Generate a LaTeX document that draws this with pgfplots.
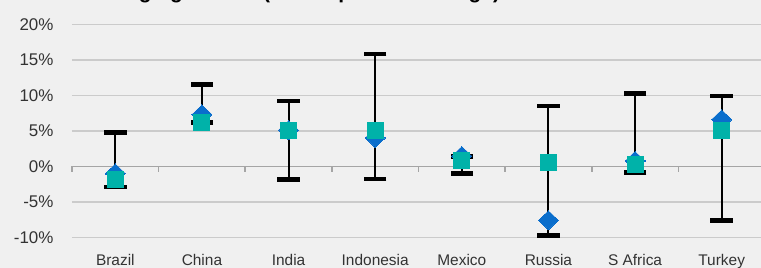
\documentclass[border=0pt]{standalone}
\usepackage{fontspec}
\setmainfont{Liberation Sans}
\usepackage{pgfplots}
\pgfplotsset{compat=1.18}
\usepackage{pgfplotstable}
\definecolor{bg}{HTML}{F0F0F0}
\definecolor{gridc}{HTML}{CBCBCB}
\definecolor{zeroc}{HTML}{A5A5A5}
\definecolor{dblue}{HTML}{0A6ECC}
\definecolor{tealc}{HTML}{00B2A9}
\definecolor{txt}{HTML}{333333}
\pgfplotstableread{
x lo hi dia sq
0 -2.9 4.8 -1.0 -1.8
1 6.2 11.5 7.3 6.1
2 -1.9 9.2 5.1 5.0
3 -1.8 15.8 4.0 5.0
4 -1.0 1.4 1.45 0.8
5 -9.7 8.5 -7.6 0.6
6 -0.85 10.3 0.75 0.3
7 -7.6 9.9 6.6 5.1
}\data
\begin{document}
\begin{tikzpicture}
\fill[bg] (-72bp,-30.7bp) rectangle (689bp,237.3bp);
\begin{axis}[
  at={(0,0)}, anchor=south west,
  scale only axis, width=693bp, height=213bp,
  xmin=-0.5, xmax=7.5, ymin=-10, ymax=20,
  axis line style={draw=none},
  xtick={0,...,7},
  xticklabels={Brazil,China,India,Indonesia,Mexico,Russia,S Africa,Turkey},
  ytick={-10,-5,0,5,10,15,20},
  yticklabels={-10\%,-5\%,0\%,5\%,10\%,15\%,20\%},
  major tick length=0,
  ymajorgrids, grid style={gridc, line width=1.5bp},
  tick label style={text=txt},
  xticklabel style={font=\fontsize{15.5}{18}\selectfont, yshift=-13bp},
  yticklabel style={font=\fontsize{17}{20}\selectfont, xshift=-15bp},
  clip=false,
]
\draw[zeroc, line width=1.5bp] (axis cs:-0.5,0) -- (axis cs:7.5,0);
\pgfplotsinvokeforeach{-0.5,0.5,1.5,2.5,3.5,4.5,5.5,6.5,7.5}{
  \draw[zeroc, line width=1.5bp] (axis cs:#1,0) -- ++(0pt,-5.5bp);
}
\addplot[draw=none, forget plot, error bars/.cd, y dir=plus, y explicit,
  error mark=none, error bar style={black, line width=2bp}]
  table[x=x, y=lo, y error expr=\thisrow{hi}-\thisrow{lo}] {\data};
\addplot[black, only marks, mark=-, mark size=11.3bp,
  mark options={line width=4.7bp}] table[x=x, y=hi] {\data};
\addplot[black, only marks, mark=-, mark size=11.3bp,
  mark options={line width=4.7bp}] table[x=x, y=lo] {\data};
\addplot[dblue, only marks, mark=diamond*, mark size=9.5bp,
  mark options={fill=dblue, draw=dblue, line width=0pt, xscale=1.4}] table[x=x, y=dia] {\data};
\addplot[tealc, only marks, mark=square*, mark size=8bp,
  mark options={fill=tealc, draw=tealc, line width=0pt}] table[x=x, y=sq] {\data};
\end{axis}
\node[anchor=base west, font=\bfseries\fontsize{21}{25}\selectfont, text=black]
  at (11bp,238.3bp) {Emerging market (YoY expected \% range)};
\pgfresetboundingbox
\useasboundingbox (-72bp,-30.7bp) rectangle (689bp,237.3bp);
\end{tikzpicture}
\end{document}
